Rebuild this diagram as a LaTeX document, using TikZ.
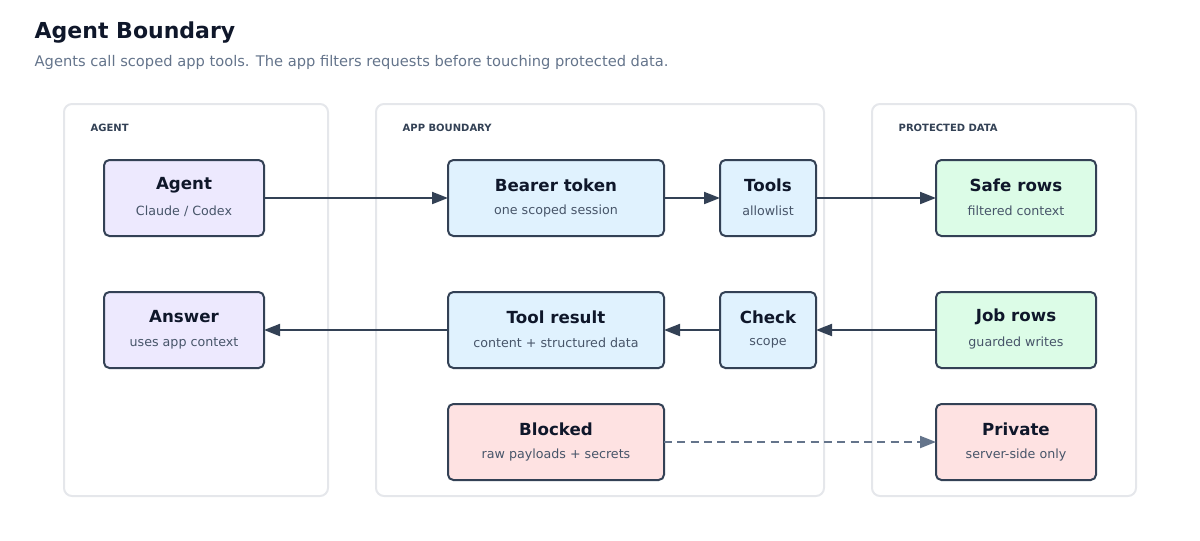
\documentclass[tikz,border=0pt]{standalone}
\usepackage{fontspec}
\setmainfont{DejaVu Sans}
\usetikzlibrary{arrows.meta}
\definecolor{ink}{HTML}{0F172A}
\definecolor{sub}{HTML}{64748B}
\definecolor{edge}{HTML}{334155}
\definecolor{panel}{HTML}{E5E7EB}
\definecolor{fA}{HTML}{EDE9FE}
\definecolor{fB}{HTML}{E0F2FE}
\definecolor{fC}{HTML}{DCFCE7}
\definecolor{fD}{HTML}{FEE2E2}
\definecolor{small}{HTML}{475569}
\begin{document}
\begin{tikzpicture}[x=0.75pt,y=-0.75pt,
  panelbox/.style={draw=panel,line width=1.5pt,rounded corners=6pt},
  card/.style={draw=edge,line width=1.5pt,rounded corners=4pt},
  ttl/.style={font=\fontsize{12.5}{14}\selectfont\bfseries,text=ink},
  sbt/.style={font=\fontsize{9.5}{11}\selectfont,text=small},
  plab/.style={font=\fontsize{7.5}{9}\selectfont\bfseries,text=edge,anchor=west},
  arr/.style={draw=edge,line width=1.5pt,-{Triangle[length=12pt,width=9pt]}},
  darr/.style={draw=sub,line width=1.5pt,dashed,dash pattern=on 6pt off 4pt,-{Triangle[length=12pt,width=9pt]}}]
\useasboundingbox (0,0) rectangle (1200,540);
\node[anchor=west,font=\fontsize{16.5}{19}\selectfont\bfseries,text=ink] (title) at (30,33) {Agent Boundary};
\node[anchor=west,font=\fontsize{11}{13}\selectfont,text=sub] (subt) at (30,62) {Agents call scoped app tools. The app filters requests before touching protected data.};
\draw[panelbox] (64,104) rectangle (328,496);
\draw[panelbox] (376,104) rectangle (824,496);
\draw[panelbox] (872,104) rectangle (1136,496);
\node[plab] (pa) at (86,128) {AGENT};
\node[plab] (pb) at (398,128) {APP BOUNDARY};
\node[plab] (pc) at (894,128) {PROTECTED DATA};
% macro-less cards
\newcommand{\mycard}[8]{%
 \draw[card,fill=#6] (#2,#3) rectangle (#4,#5);
 \coordinate (#1) at ({(#2+#4)/2},{(#3+#5)/2});
 \node[ttl] (#1t) at ({(#2+#4)/2},{(#3+#5)/2-13}) {#7};
 \node[sbt] (#1s) at ({(#2+#4)/2},{(#3+#5)/2+13}) {#8};
 \path (#2,{(#3+#5)/2}) coordinate (#1W) (#4,{(#3+#5)/2}) coordinate (#1E);}
\mycard{agent}{104}{160}{264}{236}{fA}{Agent}{Claude / Codex}
\mycard{answer}{104}{292}{264}{368}{fA}{Answer}{uses app context}
\mycard{bearer}{448}{160}{664}{236}{fB}{Bearer token}{one scoped session}
\mycard{result}{448}{292}{664}{368}{fB}{Tool result}{content + structured data}
\mycard{blocked}{448}{404}{664}{480}{fD}{Blocked}{raw payloads + secrets}
\mycard{tools}{720}{160}{816}{236}{fB}{Tools}{allowlist}
\mycard{check}{720}{292}{816}{368}{fB}{Check}{scope}
\mycard{safe}{936}{160}{1096}{236}{fC}{Safe rows}{filtered context}
\mycard{job}{936}{292}{1096}{368}{fC}{Job rows}{guarded writes}
\mycard{private}{936}{404}{1096}{480}{fD}{Private}{server-side only}
\draw[arr] (agentE) -- (bearerW);
\draw[arr] (bearerE) -- (toolsW);
\draw[arr] (toolsE) -- (safeW);
\draw[arr] (jobW) -- (checkE);
\draw[arr] (checkW) -- (resultE);
\draw[arr] (resultW) -- (answerE);
\draw[darr] (blockedE) -- (privateW);
\end{tikzpicture}
\end{document}
